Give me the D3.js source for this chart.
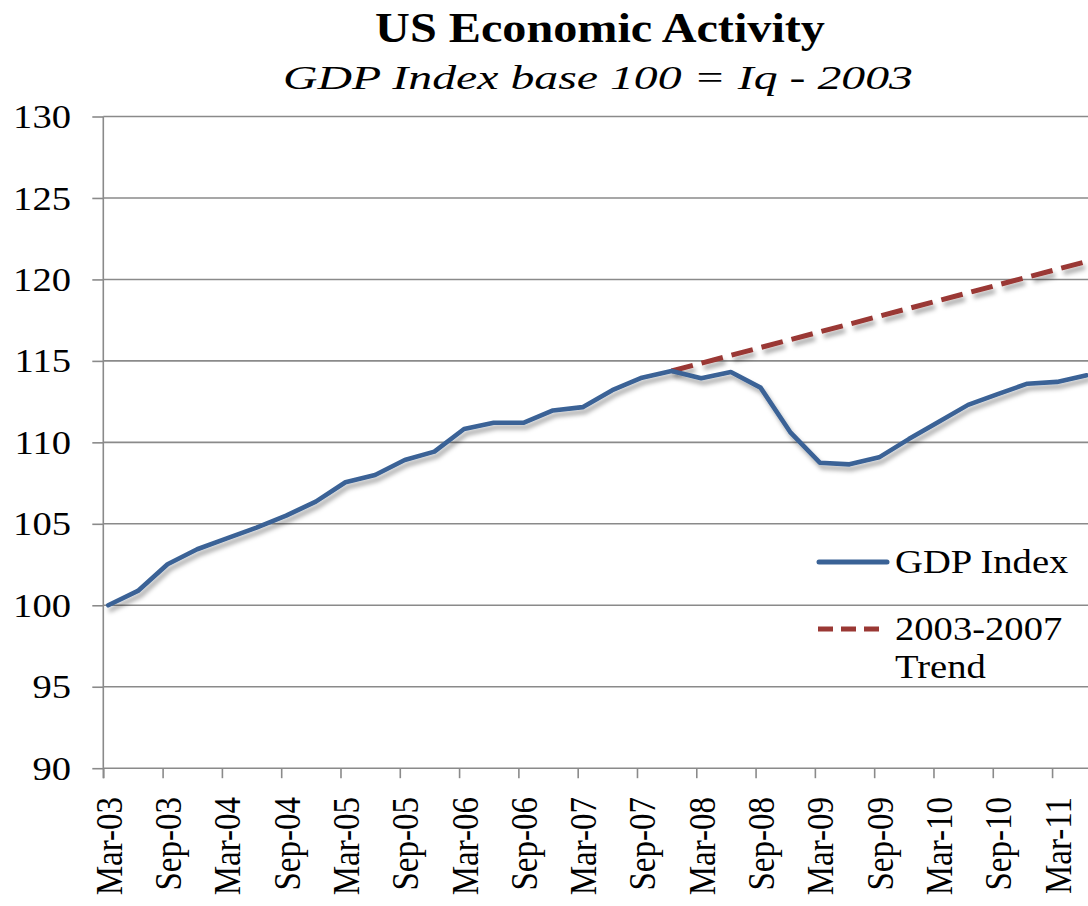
<!DOCTYPE html>
<html>
<head>
<meta charset="utf-8">
<script src="https://cdn.jsdelivr.net/npm/d3@7"></script>
<style>
  html, body { margin: 0; padding: 0; background: #ffffff; }
  svg { display: block; }
  text { font-family: "Liberation Serif", "Times New Roman", serif; fill: #000; }
</style>
</head>
<body>
<svg id="chart" width="1088" height="906"></svg>
<script>
// ---------------- data ----------------
const quarters = [
  "Mar-03","Jun-03","Sep-03","Dec-03",
  "Mar-04","Jun-04","Sep-04","Dec-04",
  "Mar-05","Jun-05","Sep-05","Dec-05",
  "Mar-06","Jun-06","Sep-06","Dec-06",
  "Mar-07","Jun-07","Sep-07","Dec-07",
  "Mar-08","Jun-08","Sep-08","Dec-08",
  "Mar-09","Jun-09","Sep-09","Dec-09",
  "Mar-10","Jun-10","Sep-10","Dec-10",
  "Mar-11","Jun-11"
];
const gdpIndex = [
  100.00, 100.88, 102.52, 103.44,
  104.11, 104.77, 105.50, 106.36,
  107.55, 108.00, 108.92, 109.43,
  110.82, 111.20, 111.20, 111.96,
  112.16, 113.20, 113.97, 114.38,
  113.94, 114.32, 113.36, 110.63,
  108.75, 108.65, 109.08, 110.20,
  111.25, 112.30, 112.96, 113.60,
  113.71, 114.12
];
const trendQuarters = [
  "Dec-07","Mar-08","Jun-08","Sep-08","Dec-08",
  "Mar-09","Jun-09","Sep-09","Dec-09",
  "Mar-10","Jun-10","Sep-10","Dec-10",
  "Mar-11","Jun-11"
];
const trendIndex = [
  114.38, 114.86, 115.34, 115.82, 116.30,
  116.78, 117.26, 117.74, 118.22,
  118.70, 119.18, 119.66, 120.14,
  120.62, 121.10
];
const xTickLabels = [
  "Mar-03","Sep-03","Mar-04","Sep-04","Mar-05","Sep-05",
  "Mar-06","Sep-06","Mar-07","Sep-07","Mar-08","Sep-08",
  "Mar-09","Sep-09","Mar-10","Sep-10","Mar-11"
];
const yTicks = [90, 95, 100, 105, 110, 115, 120, 125, 130];
const titleText = "US Economic Activity";
const subtitleText = "GDP Index base 100 = Iq - 2003";
const legendLabels = [["GDP Index"], ["2003-2007", "Trend"]];

// ---------------- helpers ----------------
const monthNames = ["Jan","Feb","Mar","Apr","May","Jun","Jul","Aug","Sep","Oct","Nov","Dec"];
function monthIndex(lbl) {            // months since Mar-03
  const [m, yy] = lbl.split("-");
  return (2000 + (+yy) - 2003) * 12 + monthNames.indexOf(m) - 2;
}

// ---------------- layout ----------------
const svg = d3.select("#chart");
const W = 1088, H = 906;
const plotLeft = 103.3, plotTop = 116.5, plotBottom = 768.2;
const monthPx = 9.883;
const SX = 1.17;        // horizontal stretch of the text glyphs in the original
const fontSize = 33;

const x = d3.scaleLinear().domain([0, 100]).range([plotLeft, plotLeft + 100 * monthPx]);
const y = d3.scaleLinear().domain([90, 130]).range([plotBottom, plotTop]);

// shadow filter
const defs = svg.append("defs");
const f = defs.append("filter").attr("id", "shadow")
  .attr("x", "-5%").attr("y", "-20%").attr("width", "110%").attr("height", "140%");
f.append("feDropShadow").attr("dx", 2.5).attr("dy", 4.5).attr("stdDeviation", 2.2)
  .attr("flood-color", "#000").attr("flood-opacity", 0.33);

// gridlines
const gridColor = "#8a8a8a";
svg.append("g").selectAll("line").data(yTicks).join("line")
  .attr("x1", plotLeft).attr("x2", W + 10)
  .attr("y1", d => y(d)).attr("y2", d => y(d))
  .attr("stroke", gridColor).attr("stroke-width", 1.6);

// y axis
const yAxis = d3.axisLeft(y).tickValues(yTicks).tickSize(11).tickFormat("");
const gy = svg.append("g").attr("transform", `translate(${plotLeft},0)`).call(yAxis);
gy.select(".domain").remove();
gy.selectAll(".tick line").attr("stroke", gridColor).attr("stroke-width", 1.6);
svg.append("line")
  .attr("x1", plotLeft).attr("x2", plotLeft)
  .attr("y1", y(130)).attr("y2", plotBottom + 10)
  .attr("stroke", gridColor).attr("stroke-width", 1.6);

svg.append("g").selectAll("text").data(yTicks).join("text")
  .attr("transform", d => `translate(71,${y(d)}) scale(${SX},1)`)
  .attr("text-anchor", "end").attr("dy", "0.35em")
  .style("font-size", fontSize + "px")
  .text(d => d);

// x axis ticks (month boundaries)
const tickMonths = xTickLabels.map(monthIndex);
const xAxis = d3.axisBottom(x).tickValues(tickMonths).tickSize(10).tickFormat("");
const gx = svg.append("g").attr("transform", `translate(0,${plotBottom})`).call(xAxis);
gx.select(".domain").remove();
gx.selectAll(".tick line").attr("stroke", gridColor).attr("stroke-width", 1.6);

// x labels (centred on month)
svg.append("g").selectAll("text").data(xTickLabels).join("text")
  .attr("transform", d => `translate(${x(monthIndex(d) + 0.5)},797) scale(${SX},1) rotate(-90)`)
  .attr("text-anchor", "end").attr("dy", "0.35em")
  .style("font-size", fontSize + "px")
  .text(d => d);

// lines
const blue = "#3a6296";
const red = "#9a3834";
const line = d3.line().x(d => x(monthIndex(d[0]) + 0.5)).y(d => y(d[1]));

svg.append("path")
  .datum(trendQuarters.map((q, i) => [q, trendIndex[i]]))
  .attr("d", line).attr("fill", "none")
  .attr("stroke", red).attr("stroke-width", 5)
  .attr("stroke-dasharray", "22,9")
  .attr("filter", "url(#shadow)");

svg.append("path")
  .datum(quarters.map((q, i) => [q, gdpIndex[i]]))
  .attr("d", line).attr("fill", "none")
  .attr("stroke", blue).attr("stroke-width", 4.6)
  .attr("stroke-linejoin", "round").attr("stroke-linecap", "round")
  .attr("filter", "url(#shadow)");

// legend
const leg = svg.append("g");
leg.append("line").attr("x1", 819).attr("x2", 887).attr("y1", 562).attr("y2", 562)
  .attr("stroke", blue).attr("stroke-width", 5).attr("stroke-linecap", "round");
leg.append("line").attr("x1", 818).attr("x2", 884).attr("y1", 629).attr("y2", 629)
  .attr("stroke", red).attr("stroke-width", 5).attr("stroke-dasharray", "15,8");
const legBaselines = [[573], [640, 678]];
legendLabels.forEach((lines, i) => {
  lines.forEach((t, j) => {
    leg.append("text")
      .attr("transform", `translate(895,${legBaselines[i][j]}) scale(${SX},1)`)
      .style("font-size", fontSize + "px")
      .text(t);
  });
});

// titles: stretched horizontally to the span they occupy in the original
function stretchedTitle(txt, cx, baseline, width, size, weight, style) {
  const t = svg.append("text")
    .attr("text-anchor", "middle")
    .style("font-size", size + "px").style("font-weight", weight).style("font-style", style)
    .text(txt);
  const len = t.node().getComputedTextLength();
  const s = width / len;
  t.attr("transform", `translate(${cx},${baseline}) scale(${s},1)`);
}
stretchedTitle(titleText, 600, 42, 450, 42, "bold", "normal");
stretchedTitle(subtitleText, 598, 89, 630, 34, "normal", "italic");
</script>
</body>
</html>
